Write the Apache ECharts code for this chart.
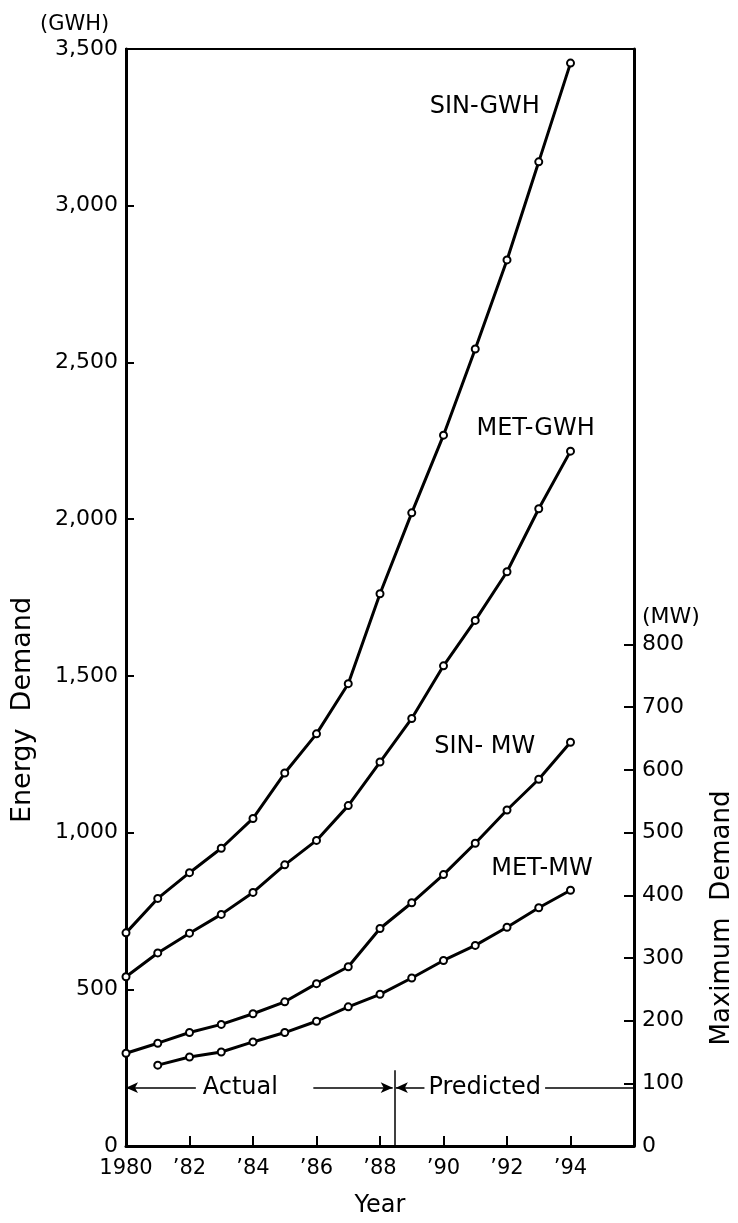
<!DOCTYPE html>
<html>
<head>
<meta charset="utf-8">
<script src="https://cdn.jsdelivr.net/npm/echarts@6/dist/echarts.min.js"></script>
<style>
  html, body { margin: 0; padding: 0; background: #fff; }
  #chart { width: 738px; height: 1223px; }
</style>
</head>
<body>
<div id="chart"></div>
<script>
// values
const years = [1980, 1981, 1982, 1983, 1984, 1985, 1986, 1987, 1988, 1989, 1990, 1991, 1992, 1993, 1994];
const sinGwh = [680, 790, 872, 950, 1045, 1190, 1315, 1475, 1762, 2020, 2268, 2543, 2827, 3140, 3455];
const metGwh = [540, 616, 679, 739, 809, 897, 975, 1086, 1225, 1364, 1532, 1677, 1832, 2033, 2217];
const sinMw = [148, 164, 181, 194, 211, 230, 259, 286, 347, 388, 433, 483, 536, 585, 644];
const metMw = [null, 129, 142, 150, 166, 181, 199, 222, 242, 268, 296, 320, 349, 380, 408];
const mwTicks = [0, 100, 200, 300, 400, 500, 600, 700, 800];

const font = 'DejaVu Sans';
const chart = echarts.init(document.getElementById('chart'));

function pairs(vals) {
  return years.map((y, i) => [y, vals[i]]);
}

// text placed in data coords (series names, Actual / Predicted)
function tags(items) {
  return {
    symbol: 'circle',
    symbolSize: 1,
    silent: true,
    itemStyle: { color: 'rgba(0,0,0,0)' },
    label: {
      show: true, position: 'inside', formatter: '{b}',
      color: '#000', fontFamily: font, fontSize: 24
    },
    data: items.map(([name, coord]) => ({ name, coord }))
  };
}

function line(name, vals, yIdx, mark) {
  return {
    name,
    type: 'line',
    yAxisIndex: yIdx,
    data: pairs(vals),
    symbol: 'emptyCircle',
    symbolSize: 7,
    lineStyle: { color: '#000', width: 3 },
    itemStyle: { color: '#000', borderColor: '#000', borderWidth: 1.8 },
    markPoint: mark,
    z: 3
  };
}

const sinMwSeries = line('SIN- MW', sinMw, 1, tags([
  ['SIN- MW', [1991.3, 637]],
  ['Actual', [1983.6, 93]],
  ['Predicted', [1991.3, 93]]
]));
sinMwSeries.markLine = {
  silent: true,
  symbolSize: [8, 12],
  label: { show: false },
  lineStyle: { color: '#000', width: 1.5, type: 'solid' },
  data: [
    [{ coord: [1980, 93], symbol: 'arrow' }, { coord: [1982.2, 93], symbol: 'none' }],
    [{ coord: [1985.9, 93], symbol: 'none' }, { coord: [1988.4, 93], symbol: 'arrow' }],
    [{ coord: [1988.5, 93], symbol: 'arrow' }, { coord: [1989.4, 93], symbol: 'none' }],
    [{ coord: [1993.2, 93], symbol: 'none' }, { coord: [1996, 93], symbol: 'none' }],
    [{ coord: [1988.45, 0], symbol: 'none' }, { coord: [1988.45, 121], symbol: 'none' }]
  ]
};

chart.setOption({
  animation: false,
  backgroundColor: '#fff',
  textStyle: { fontFamily: font, color: '#000' },
  grid: {
    left: 126, right: 104, top: 49, bottom: 66,
    show: true, borderColor: '#000', borderWidth: 2
  },
  xAxis: {
    type: 'value',
    min: 1980,
    max: 1996,
    interval: 2,
    name: 'Year',
    nameLocation: 'middle',
    nameGap: 48,
    nameTextStyle: { fontSize: 24, color: '#000' },
    axisLine: { lineStyle: { color: '#000', width: 3 } },
    axisTick: { inside: true, length: 10, lineStyle: { color: '#000', width: 2 } },
    axisLabel: {
      fontSize: 21, color: '#000', margin: 12,
      formatter: v => v === 1980 ? '1980' : (v === 1996 ? '' : '\u2019' + String(v).slice(2))
    },
    splitLine: { show: false }
  },
  yAxis: [
    {
      type: 'value',
      min: 0,
      max: 3500,
      interval: 500,
      axisLine: { show: true, lineStyle: { color: '#000', width: 3 } },
      axisTick: { show: true, inside: true, length: 8, lineStyle: { color: '#000', width: 2 } },
      axisLabel: {
        fontSize: 22, color: '#000', margin: 8,
        formatter: v => v.toLocaleString('en-US')
      },
      splitLine: { show: false }
    },
    {
      type: 'value',
      position: 'right',
      min: 0,
      max: 1750,
      axisLine: { show: true, lineStyle: { color: '#000', width: 3 } },
      axisTick: { show: true, inside: true, length: 10, customValues: mwTicks, lineStyle: { color: '#000', width: 2 } },
      axisLabel: { fontSize: 22, color: '#000', margin: 8, customValues: mwTicks },
      splitLine: { show: false }
    }
  ],
  graphic: [
    { type: 'text', left: 40, top: 14, style: { text: '(GWH)', font: '21px "DejaVu Sans"', fill: '#000' } },
    { type: 'text', left: 642, top: 606, style: { text: '(MW)', font: '22px "DejaVu Sans"', fill: '#000' } },
    {
      type: 'text', x: 23, y: 710, rotation: Math.PI / 2,
      style: { text: 'Energy  Demand', font: '27px "DejaVu Sans"', fill: '#000', align: 'center', verticalAlign: 'middle' }
    },
    {
      type: 'text', x: 722, y: 918, rotation: Math.PI / 2,
      style: { text: 'Maximum  Demand', font: '26px "DejaVu Sans"', fill: '#000', align: 'center', verticalAlign: 'middle' }
    }
  ],
  series: [
    line('SIN-GWH', sinGwh, 0, tags([['SIN-GWH', [1991.3, 3316]]])),
    line('MET-GWH', metGwh, 0, tags([['MET-GWH', [1992.9, 2287]]])),
    sinMwSeries,
    line('MET-MW', metMw, 1, tags([['MET-MW', [1993.1, 442]]]))
  ]
});
</script>
</body>
</html>
